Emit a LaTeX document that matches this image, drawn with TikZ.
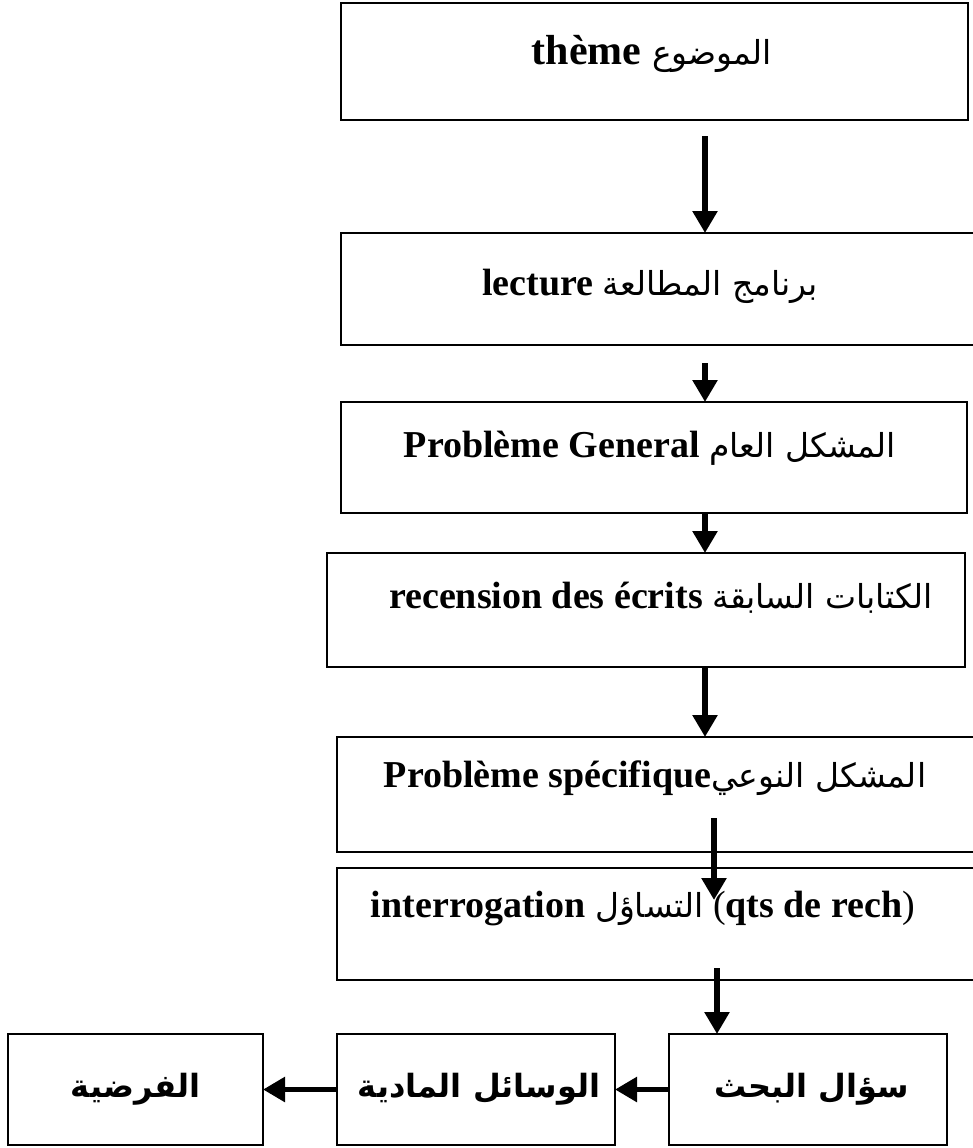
\documentclass[tikz,border=0pt]{standalone}
\usepackage{fontspec}
\setmainfont{Liberation Serif}
\newfontfamily\arabicfont[Script=Arabic]{DejaVu Sans}
\TeXXeTstate=1
\usetikzlibrary{arrows.meta}

% Arabic run inside a left-to-right line
\newcommand{\ar}[1]{{\arabicfont\mdseries\fontsize{33}{40}\selectfont\beginR #1\endR}}
\newcommand{\arb}[1]{{\arabicfont\bfseries\fontsize{32}{40}\selectfont\beginR #1\endR}}

\begin{document}
\begin{tikzpicture}[x=1pt,y=-1pt,
  box/.style={draw, line width=1.8pt, inner sep=0pt, outer sep=0pt, anchor=north west},
  lbl/.style={inner sep=0pt, font=\fontsize{38}{44}\selectfont\bfseries},
  arr/.style={line width=5.5pt, -{Triangle[width=24pt,length=22pt]}},
]
\useasboundingbox (0,0) rectangle (973,1148);
\clip (0,0) rectangle (973,1148);

% column of steps
\node[box, minimum width=627pt, minimum height=117pt] (b1) at (341,3) {};
\node[box, minimum width=650pt, minimum height=112pt] (b2) at (341,233) {};
\node[box, minimum width=626pt, minimum height=111pt] (b3) at (341,402) {};
\node[box, minimum width=638pt, minimum height=114pt] (b4) at (327,553) {};
\node[box, minimum width=650pt, minimum height=115pt] (b5) at (337,737) {};
\node[box, minimum width=650pt, minimum height=112pt] (b6) at (337,868) {};

% bottom row
\node[box, minimum width=278pt, minimum height=111pt] (b7) at (669,1034) {};
\node[box, minimum width=278pt, minimum height=111pt] (b8) at (337,1034) {};
\node[box, minimum width=255pt, minimum height=111pt] (b9) at (8,1034) {};

% labels
\node[lbl, font=\fontsize{42}{48}\selectfont\bfseries] (t1) at (652,54) {thème \ar{الموضوع}};
\node[lbl] (t2) at (650,286) {lecture \ar{برنامج المطالعة}};
\node[lbl] (t3) at (650,448) {Problème General \ar{المشكل العام}};
\node[lbl] (t4) at (661,598) {recension des écrits \ar{الكتابات السابقة}};
\node[lbl] (t5) at (655,778) {Problème spécifique\ar{المشكل النوعي}};
\node[lbl] (t6) at (643,908) {interrogation \ar{التساؤل} {\mdseries(}qts de rech{\mdseries)}};
\node[lbl] (t7) at ([xshift=4pt]b7.center) {\arb{سؤال البحث}};
\node[lbl] (t8) at ([xshift=3pt]b8.center) {\arb{الوسائل المادية}};
\node[lbl] (t9) at (b9.center) {\arb{الفرضية}};

% arrow end points that lie off the box borders
\coordinate (s1) at (705,136);
\coordinate (s2) at (705,363);
\coordinate (s5) at (714,818);
\coordinate (e5) at (714,900);
\coordinate (s6) at (717,968);

% connectors
\draw[arr] (s1) -- (s1 |- b2.north);
\draw[arr] (s2) -- (s2 |- b3.north);
\draw[arr] (b3.south -| s1) -- (b4.north -| s1);
\draw[arr] (b4.south -| s1) -- (b5.north -| s1);
\draw[arr] (s5) -- (e5);
\draw[arr] (s6) -- (s6 |- b7.north);
\draw[arr] (b7.west) -- (b8.east);
\draw[arr] (b8.west) -- (b9.east);
\end{tikzpicture}
\end{document}
